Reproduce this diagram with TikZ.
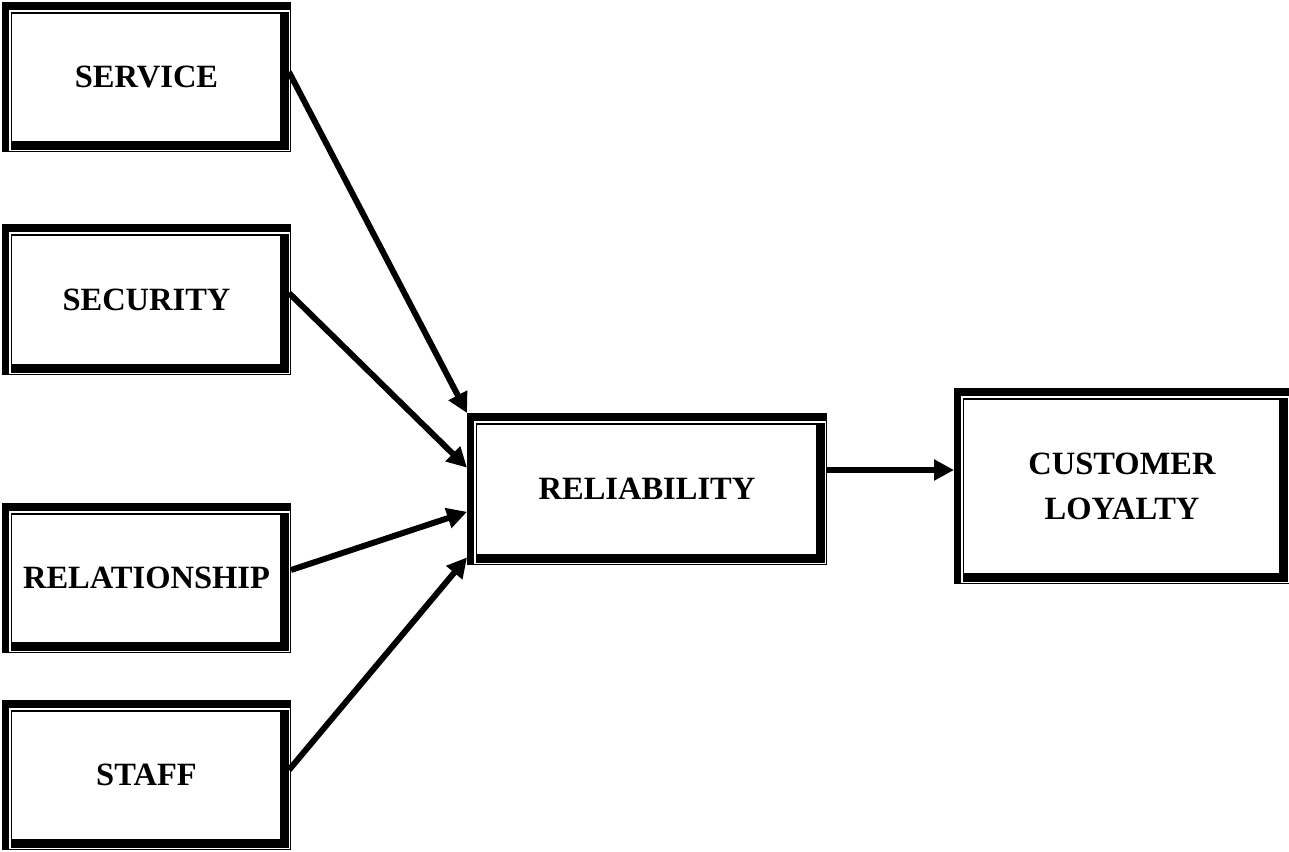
\documentclass[tikz,border=0pt]{standalone}
\usepackage{fontspec}
\setmainfont{Liberation Serif}
\usetikzlibrary{arrows.meta, calc}

\begin{document}
\begin{tikzpicture}[x=0.02cm, y=-0.02cm,
    factor/.style = {minimum width=5.78cm, minimum height=3cm, inner sep=0pt, outer sep=0pt,
      align=center, font=\fontsize{18.5}{25.5}\selectfont\bfseries,
      path picture={
        \coordinate (fa) at (path picture bounding box.north west);
        \coordinate (fb) at (path picture bounding box.south east);
        % thick outer lines, top and left
        \fill (fa) rectangle ($(fa -| fb)+(0,8)$);
        \fill (fa) rectangle ($(fa |- fb)+(7,0)$);
        % thin outer lines, right and bottom
        \draw[line width=0.8pt] ($(fa -| fb)+(-0.7,0)$) -- ($(fb)+(-0.7,-0.7)$) -- ($(fa |- fb)+(0,-0.7)$);
        % inner frame, thin top and left, thick right and bottom
        \draw[line width=0.8pt] ($(fa)+(9.5,11)$) rectangle ($(fb)+(-3,-3)$);
        \fill ($(fa -| fb)+(-11,11)$) rectangle ($(fb)+(-3,-3)$);
        \fill ($(fa |- fb)+(9.5,-11)$) rectangle ($(fb)+(-3,-3)$);
      }},
    link/.style = {line width=3.4pt, -{Triangle[length=0.4cm, width=0.4cm]}}]

  \useasboundingbox (0,0) rectangle (1289,852);

  \node[factor] (service) at (146.5,77) {SERVICE};
  \node[factor, minimum height=3.02cm] (security) at (146.5,299.5) {SECURITY};
  \node[factor] (relation) at (146.5,578) {RELATIONSHIP};
  \node[factor] (staff) at (146.5,775) {STAFF};

  \node[factor, minimum width=7.2cm, minimum height=3.04cm] (reliab) at (647,489) {RELIABILITY};
  \node[factor, minimum width=6.72cm, minimum height=3.92cm] (loyal) at (1122,486) {CUSTOMER\\LOYALTY};

  \coordinate (in_1) at ($(reliab.north west)!0.36!(reliab.south west)$);
  \coordinate (in_2) at ($(reliab.north west)!0.65!(reliab.south west)$);
  \coordinate (in_3) at ($(reliab.north west)!0.95!(reliab.south west)$);
  \coordinate (out) at ($(reliab.north east)!0.375!(reliab.south east)$);

  \draw[link] ([xshift=-0.04cm, yshift=0.1cm]service.east) -- (reliab.north west);
  \draw[link] ([xshift=-0.04cm, yshift=0.13cm]security.east) -- (in_1);
  \draw[link] ([yshift=0.16cm]relation.east) -- (in_2);
  \draw[link] ([xshift=-0.04cm, yshift=0.1cm]staff.east) -- (in_3);
  \draw[link] (out) -- (out -| loyal.west);

\end{tikzpicture}
\end{document}
